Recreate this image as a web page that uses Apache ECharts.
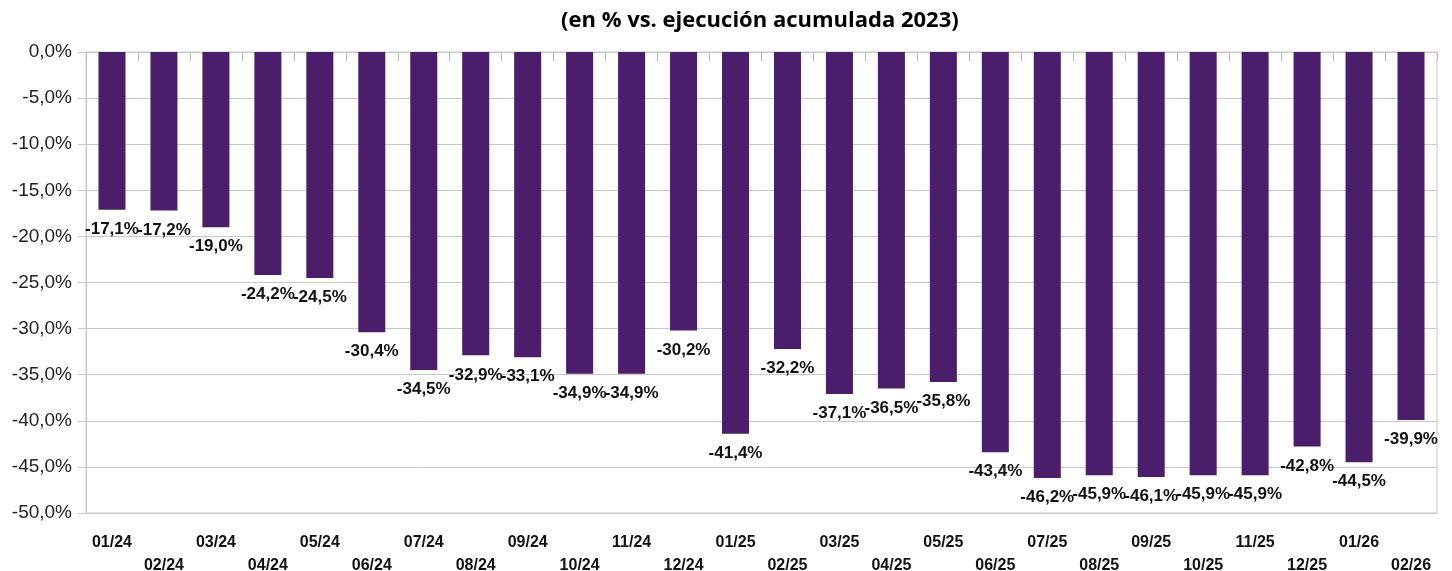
<!DOCTYPE html>
<html>
<head>
<meta charset="utf-8">
<script src="https://cdn.jsdelivr.net/npm/echarts@6/dist/echarts.min.js"></script>
<style>
html,body{margin:0;padding:0;background:#fff;}
#container{width:1452px;height:571px;}
</style>
</head>
<body>
<div id="container"></div>
<script>
// categorias (mes/año)
var categories = ['01/24','02/24','03/24','04/24','05/24','06/24','07/24','08/24','09/24','10/24','11/24','12/24',
    '01/25','02/25','03/25','04/25','05/25','06/25','07/25','08/25','09/25','10/25','11/25','12/25','01/26','02/26'];
// variacion en % vs. ejecucion acumulada 2023
var values = [-17.1,-17.2,-19.0,-24.2,-24.5,-30.4,-34.5,-32.9,-33.1,-34.9,-34.9,-30.2,
    -41.4,-32.2,-37.1,-36.5,-35.8,-43.4,-46.2,-45.9,-46.1,-45.9,-45.9,-42.8,-44.5,-39.9];

function pct(v){
    return v.toFixed(1).replace('.', ',') + '%';
}

var myChart = echarts.init(document.getElementById('container'));
var option = {
    backgroundColor: '#fff',
    animation: false,
    title: {
        text: '(en % vs. ejecución acumulada 2023)',
        left: 556,
        top: 5,
        textStyle: {
            fontFamily: 'Open Sans',
            fontWeight: 'bold',
            fontSize: 22,
            color: '#000'
        }
    },
    grid: {
        left: 86,
        right: 15,
        top: 52,
        bottom: 58,
        outerBoundsMode: 'none',
        containLabel: false,
        show: true,
        borderColor: '#c8c8c8',
        borderWidth: 1
    },
    xAxis: [{
        type: 'category',
        data: categories,
        position: 'bottom',
        axisLine: { onZero: false, lineStyle: { color: '#c8c8c8' } },
        axisTick: { show: false },
        axisLabel: {
            interval: 0,
            margin: 18,
            fontFamily: 'Liberation Sans',
            fontWeight: 'bold',
            fontSize: 16,
            color: '#111',
            lineHeight: 23,
            formatter: function (v, i) {
                return i % 2 ? '\n' + v : v;
            }
        }
    }, {
        // marcas de categoria sobre la linea del 0
        type: 'category',
        data: categories,
        position: 'top',
        axisLine: { show: false },
        axisTick: { show: true, inside: true, length: 9, lineStyle: { color: '#bbbbbb' } },
        axisLabel: { show: false }
    }],
    yAxis: {
        type: 'value',
        min: -50,
        max: 0,
        interval: 5,
        axisLine: { show: true, lineStyle: { color: '#c8c8c8' } },
        axisTick: { show: true, length: 8, lineStyle: { color: '#c8c8c8' } },
        splitLine: { lineStyle: { color: '#c8c8c8', width: 1 } },
        axisLabel: {
            margin: 14,
            fontFamily: 'Liberation Sans',
            fontSize: 19,
            color: '#222',
            formatter: function (v) { return pct(v); }
        }
    },
    series: [{
        type: 'bar',
        data: values,
        barWidth: '52%',
        itemStyle: { color: '#4a1e6a' },
        label: {
            show: true,
            position: 'bottom',
            distance: 11,
            fontFamily: 'Liberation Sans',
            fontWeight: 'bold',
            fontSize: 17,
            color: '#111',
            formatter: function (p) { return pct(p.value); }
        }
    }]
};
myChart.setOption(option);
</script>
</body>
</html>
